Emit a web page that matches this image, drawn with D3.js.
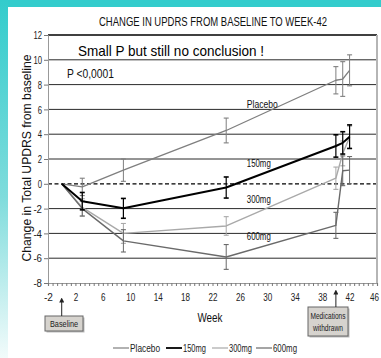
<!DOCTYPE html>
<html><head><meta charset="utf-8">
<script src="https://cdn.jsdelivr.net/npm/d3@7/dist/d3.min.js"></script>
<style>
html,body{margin:0;padding:0;background:#fff;}
svg{display:block;}
text{font-family:"Liberation Sans",Arial,sans-serif;}
</style></head><body>
<script>
// ---- data ----
const seriesNames = ["Placebo", "150mg", "300mg", "600mg"];
const xTickLabels = [-2, 2, 6, 10, 14, 18, 22, 26, 30, 34, 38, 42, 46];
const yTickLabels = [-8, -6, -4, -2, 0, 2, 4, 6, 8, 10, 12];

const placeboWeeks = [0, 3, 9, 24, 40, 41, 42];
const placeboMean  = [0, -0.25, 1.1, 4.3, 8.35, 8.45, 9.15];
const placeboErr   = [0, 0.7, 0.9, 1.0, 1.1, 1.4, 1.25];

const mg150Weeks = [0, 3, 9, 24, 40, 41, 42];
const mg150Mean  = [0, -1.4, -1.98, -0.3, 3.05, 3.3, 3.8];
const mg150Err   = [0, 0.7, 0.8, 0.85, 0.9, 0.9, 0.95];

const mg300Weeks = [0, 3, 9, 24, 40, 41, 42];
const mg300Mean  = [0, -1.9, -4.0, -3.4, 0.45, 2.45, 3.75];
const mg300Err   = [0, 0.7, 0.8, 0.75, 0.9, 1.0, 0.9];

const mg600Weeks = [0, 3, 9, 24, 40, 41, 42];
const mg600Mean  = [0, -2.0, -4.6, -5.9, -3.35, 1.05, 1.1];
const mg600Err   = [0, 0.6, 0.9, 1.0, 1.05, 1.2, 1.1];

const seriesLabelPos = [[27, 6.1], [27, 1.35], [27, -1.55], [27, -4.55]];

// ---- drawing ----
const W = 381, H = 358;
const svg = d3.select("body").append("svg").attr("width", W).attr("height", H);

const defs = svg.append("defs");
const grad = defs.append("linearGradient").attr("id", "lg").attr("x1", 0).attr("y1", 0).attr("x2", 0).attr("y2", 1);
grad.append("stop").attr("offset", "0%").attr("stop-color", "#33cccc");
grad.append("stop").attr("offset", "55%").attr("stop-color", "#7fdcdc");
grad.append("stop").attr("offset", "100%").attr("stop-color", "#f2fbfb");
defs.append("marker").attr("id", "arr").attr("viewBox", "0 0 10 10").attr("refX", 5).attr("refY", 5)
  .attr("markerWidth", 5).attr("markerHeight", 5).attr("orient", "auto")
  .append("path").attr("d", "M0,0L10,5L0,10z").attr("fill", "#222");

svg.append("rect").attr("width", W).attr("height", H).attr("fill", "#fff");
svg.append("rect").attr("x", 0).attr("y", 0).attr("width", W).attr("height", 7).attr("fill", "#33cccc");
svg.append("rect").attr("x", 0).attr("y", 0).attr("width", 8).attr("height", H).attr("fill", "url(#lg)");

const x = d3.scaleLinear().domain([-2, 46]).range([48, 377]);
const y = d3.scaleLinear().domain([-8, 12]).range([283, 35]);
const fmt = d => String(d);
const narrow = (sel, per) => sel.attr("textLength", function () { return this.textContent.length * per; })
  .attr("lengthAdjust", "spacingAndGlyphs");

// gridlines
svg.append("g").selectAll("line").data(yTickLabels.filter(v => v > -8 && v !== 0))
  .join("line").attr("x1", x(-2)).attr("x2", x(46)).attr("y1", d => y(d)).attr("y2", d => y(d))
  .attr("stroke", d => d === 12 ? "#000" : "#2a2a2a").attr("stroke-width", d => d === 12 ? 1.3 : 1);
svg.append("line").attr("x1", x(-2)).attr("x2", x(46)).attr("y1", y(0)).attr("y2", y(0))
  .attr("stroke", "#000").attr("stroke-width", 1.3).attr("stroke-dasharray", "4,2.5");
// right border
svg.append("line").attr("x1", x(46)).attr("x2", x(46)).attr("y1", y(12)).attr("y2", y(-8))
  .attr("stroke", "#b5b5b5").attr("stroke-width", 2);

// axes
const yAxis = svg.append("g").attr("transform", `translate(${x(-2)},0)`)
  .call(d3.axisLeft(y).tickValues(yTickLabels).tickSize(4).tickPadding(2).tickFormat(fmt));
yAxis.select(".domain").attr("stroke", "#999");
yAxis.selectAll(".tick line").attr("stroke", "#777");
yAxis.selectAll("text").attr("font-size", 11.5).attr("fill", "#222").call(narrow, 4.3);

const minor = d3.range(-2, 46.001, 4 / 6);
const xMinor = svg.append("g").attr("transform", `translate(0,${y(-8)})`)
  .call(d3.axisBottom(x).tickValues(minor).tickSize(3).tickFormat(""));
xMinor.select(".domain").attr("stroke", "#999").attr("stroke-width", 1.2);
xMinor.selectAll(".tick line").attr("stroke", "#777");

const xAxis = svg.append("g").attr("transform", `translate(0,${y(-8)})`)
  .call(d3.axisBottom(x).tickValues(xTickLabels).tickSize(0).tickPadding(10).tickFormat(fmt));
xAxis.select(".domain").remove();
xAxis.selectAll("text").attr("font-size", 11.5).attr("fill", "#222").call(narrow, 4.5);
xAxis.selectAll(".tick").filter(d => d === 46).select("text").attr("dx", -3);

// series
const series = [
  {name: seriesNames[0], w: placeboWeeks, m: placeboMean, e: placeboErr, color: "#7f7f7f", sw: 1.3},
  {name: seriesNames[1], w: mg150Weeks, m: mg150Mean, e: mg150Err, color: "#000000", sw: 2},
  {name: seriesNames[2], w: mg300Weeks, m: mg300Mean, e: mg300Err, color: "#a9a9a9", sw: 1.4},
  {name: seriesNames[3], w: mg600Weeks, m: mg600Mean, e: mg600Err, color: "#6a6a6a", sw: 1.4}
];
const line = d3.line().x(d => x(d[0])).y(d => y(d[1]));
const drawOrder = [2, 3, 0, 1];
drawOrder.forEach(i => {
  const s = series[i];
  const pts = s.w.map((w, k) => [w, s.m[k], s.e[k]]);
  const g = svg.append("g");
  const eb = pts.filter(p => p[2] > 0);
  const cw = 2.5;
  g.selectAll("line.v").data(eb).join("line").attr("class", "v")
    .attr("x1", p => x(p[0])).attr("x2", p => x(p[0]))
    .attr("y1", p => y(p[1] + p[2])).attr("y2", p => y(p[1] - p[2]))
    .attr("stroke", s.color).attr("stroke-width", i === 1 ? 1.2 : 1);
  [1, -1].forEach((sg, j) => {
    g.selectAll("line.cap" + j).data(eb).join("line").attr("class", "cap" + j)
      .attr("x1", p => x(p[0]) - cw).attr("x2", p => x(p[0]) + cw)
      .attr("y1", p => y(p[1] + sg * p[2]))
      .attr("y2", p => y(p[1] + sg * p[2]))
      .attr("stroke", s.color).attr("stroke-width", i === 1 ? 1.6 : 1.1);
  });
  g.append("path").datum(pts).attr("d", line).attr("fill", "none")
    .attr("stroke", s.color).attr("stroke-width", s.sw).attr("stroke-linejoin", "round");
});

// in-plot labels
svg.append("g").selectAll("text").data(seriesNames).join("text")
  .attr("x", (d, i) => x(seriesLabelPos[i][0])).attr("y", (d, i) => y(seriesLabelPos[i][1]))
  .attr("font-size", 11.5).attr("fill", "#111").text(d => d)
  .attr("textLength", (d, i) => i === 0 ? 31 : 24).attr("lengthAdjust", "spacingAndGlyphs");

// titles
svg.append("text").attr("x", 213).attr("y", 25.5).attr("text-anchor", "middle")
  .attr("font-size", 12.5).attr("fill", "#111").attr("textLength", 228).attr("lengthAdjust", "spacingAndGlyphs")
  .text("CHANGE IN UPDRS FROM BASELINE TO WEEK-42");
svg.append("text").attr("x", 78).attr("y", 56).attr("font-size", 14.5).attr("fill", "#000")
  .attr("textLength", 186).attr("lengthAdjust", "spacingAndGlyphs")
  .text("Small P but still no conclusion !");
svg.append("text").attr("x", 67).attr("y", 78).attr("font-size", 13.5).attr("fill", "#111")
  .attr("textLength", 47).attr("lengthAdjust", "spacingAndGlyphs").text("P <0,0001");
svg.append("text").attr("transform", "translate(31,158) rotate(-90)").attr("text-anchor", "middle")
  .attr("font-size", 12).attr("fill", "#111")
  .attr("textLength", 207).attr("lengthAdjust", "spacingAndGlyphs")
  .text("Change in Total UPDRS from baseline");
svg.append("text").attr("x", 210).attr("y", 322).attr("text-anchor", "middle")
  .attr("font-size", 13).attr("fill", "#111").attr("textLength", 25).attr("lengthAdjust", "spacingAndGlyphs").text("Week");

// annotation boxes
function box(x0, y0, w, h, lines, ly, lw) {
  svg.append("rect").attr("x", x0 + 1.5).attr("y", y0 + 1.5).attr("width", w).attr("height", h).attr("fill", "#bbb");
  svg.append("rect").attr("x", x0).attr("y", y0).attr("width", w).attr("height", h)
    .attr("fill", "#d6d3ce").attr("stroke", "#666").attr("stroke-width", 1);
  lines.forEach((t, i) => svg.append("text").attr("x", x0 + w / 2).attr("y", ly[i]).attr("text-anchor", "middle")
    .attr("font-size", 9).attr("fill", "#222").attr("textLength", lw[i]).attr("lengthAdjust", "spacingAndGlyphs").text(t));
}
box(45, 316, 38, 15, ["Baseline"], [327], [28]);
box(308, 307, 40, 29, ["Medications"], [319], [35]);
svg.append("text").attr("x", 328).attr("y", 331).attr("text-anchor", "middle").attr("font-size", 9).attr("fill", "#222")
  .attr("textLength", 30).attr("lengthAdjust", "spacingAndGlyphs").text("withdrawn");
svg.append("line").attr("x1", x(0)).attr("x2", x(0)).attr("y1", 316).attr("y2", 300)
  .attr("stroke", "#222").attr("stroke-width", 1).attr("marker-end", "url(#arr)");
svg.append("line").attr("x1", x(40)).attr("x2", x(40)).attr("y1", 307).attr("y2", 292)
  .attr("stroke", "#222").attr("stroke-width", 1).attr("marker-end", "url(#arr)");

// legend
const legX = [113, 166, 212, 256];
const legW = [30, 23, 23, 24];
const leg = svg.append("g");
series.forEach((s, i) => {
  leg.append("line").attr("x1", legX[i]).attr("x2", legX[i] + 16).attr("y1", 348).attr("y2", 348)
    .attr("stroke", s.color).attr("stroke-width", i === 1 ? 1.8 : 1.2);
  leg.append("text").attr("x", legX[i] + 17).attr("y", 352).attr("font-size", 10.5).attr("fill", "#222")
    .attr("textLength", legW[i]).attr("lengthAdjust", "spacingAndGlyphs").text(s.name);
});
</script>
</body></html>
